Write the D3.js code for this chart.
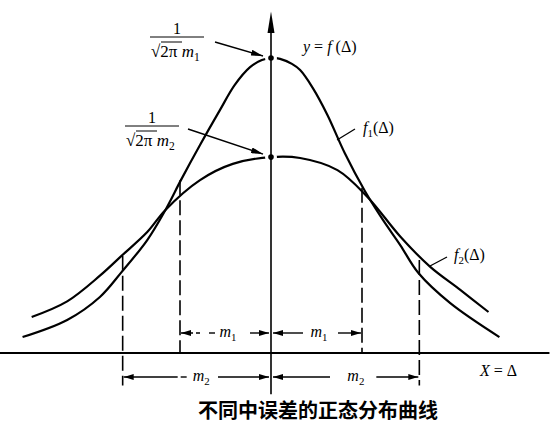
<!DOCTYPE html>
<html>
<head>
<meta charset="utf-8">
<script src="https://cdn.jsdelivr.net/npm/d3@7"></script>
<style>
  body { margin: 0; background: #fff; }
  svg { display: block; }
  text { font-family: "Liberation Serif", "DejaVu Serif", serif; fill: #000; }
</style>
</head>
<body>
<svg width="558" height="444"></svg>
<script>
// Δ in units of m1, f scaled so that the peak of f1 is 1
var f1Delta = [-2.73, -2.24, -1.88, -1.64, -1.36, -1.16, -0.99, -0.78, -0.56, -0.40, -0.23, -0.10, 0,
               0.10, 0.23, 0.32, 0.46, 0.62, 0.81, 1.03, 1.23, 1.42, 1.62, 1.97, 2.51];
var f1Value = [0.054, 0.112, 0.19, 0.275, 0.383, 0.485, 0.586, 0.705, 0.824, 0.908, 0.969, 0.993, 1,
               0.997, 0.98, 0.959, 0.898, 0.807, 0.678, 0.55, 0.451, 0.366, 0.271, 0.169, 0.054];
var f2Delta = [-2.63, -2.24, -1.88, -1.64, -1.36, -1.16, -0.78, -0.42, 0,
               0.32, 0.73, 1.06, 1.42, 1.75, 2.08, 2.39];
var f2Value = [0.122, 0.175, 0.262, 0.33, 0.41, 0.485, 0.586, 0.641, 0.664,
               0.661, 0.62, 0.529, 0.395, 0.292, 0.214, 0.139];

var m1 = 1.0, m2 = 1.63;
var m1Tops = [0.586, 0.56];   // f1 where the m1 guides start (left, right)
var m2Tops = [0.33, 0.315];   // f2 where the m2 guides start
var caption = "不同中误差的正态分布曲线";

var svg = d3.select("svg");

var x = d3.scaleLinear().domain([-3, 3]).range([-2, 544]);
var y = d3.scaleLinear().domain([0, 1]).range([353, 58]);

var defs = svg.append("defs");
defs.append("marker")
    .attr("id", "arr")
    .attr("markerUnits", "userSpaceOnUse")
    .attr("markerWidth", 10).attr("markerHeight", 6)
    .attr("refX", 10).attr("refY", 3)
    .attr("orient", "auto-start-reverse")
  .append("path")
    .attr("d", "M0,0L10,3L0,6Z");
defs.append("marker")
    .attr("id", "arrLong")
    .attr("markerUnits", "userSpaceOnUse")
    .attr("markerWidth", 12).attr("markerHeight", 6)
    .attr("refX", 12).attr("refY", 3)
    .attr("orient", "auto")
  .append("path")
    .attr("d", "M0,0L12,3L0,6Z");

var line = d3.line()
    .x(d => x(d[0]))
    .y(d => y(d[1]))
    .curve(d3.curveCatmullRom.alpha(0.5));

var g = svg.append("g");

// curves
g.append("path")
    .datum(d3.zip(f1Delta, f1Value))
    .attr("d", line)
    .attr("fill", "none").attr("stroke", "#000").attr("stroke-width", 2.2);
g.append("path")
    .datum(d3.zip(f2Delta, f2Value))
    .attr("d", line)
    .attr("fill", "none").attr("stroke", "#000").attr("stroke-width", 2.2);

// dashed guides
[[-m1, m1Tops[0]], [m1, m1Tops[1]]].forEach(d => {
  g.append("line")
      .attr("x1", x(d[0])).attr("x2", x(d[0]))
      .attr("y1", y(d[1])).attr("y2", y(0))
      .attr("stroke", "#000").attr("stroke-width", 1.6)
      .attr("stroke-dasharray", "15,5");
});
[[-m2, m2Tops[0]], [m2, m2Tops[1]]].forEach(d => {
  g.append("line")
      .attr("x1", x(d[0])).attr("x2", x(d[0]))
      .attr("y1", y(d[1])).attr("y2", y(-0.11))
      .attr("stroke", "#000").attr("stroke-width", 1.6)
      .attr("stroke-dasharray", "15,5");
});

// x axis
g.append("line")
    .attr("x1", x(-2.98)).attr("x2", x(3.06))
    .attr("y1", y(0)).attr("y2", y(0))
    .attr("stroke", "#000").attr("stroke-width", 2);

// gaps around the peak dots
var peak2 = f2Value[f2Delta.indexOf(0)];
[1, peak2].forEach(v => {
  g.append("circle").attr("cx", x(0)).attr("cy", y(v)).attr("r", 6).attr("fill", "#fff");
});

// y axis with arrow
var x0 = x(0);
g.append("line")
    .attr("x1", x0).attr("x2", x0)
    .attr("y1", y(-0.14)).attr("y2", y(1.1))
    .attr("stroke", "#000").attr("stroke-width", 1.6);
g.append("path")
    .attr("d", `M${x0},${y(1.158)}L${x0 - 3.5},${y(1.085)}L${x0 + 3.5},${y(1.085)}Z`);

[1, peak2].forEach(v => {
  g.append("circle").attr("cx", x0).attr("cy", y(v)).attr("r", 2.8).attr("fill", "#000");
});

// helper for math labels
function mathText(px, py, parts, size) {
  var t = g.append("text").attr("x", px).attr("y", py).attr("font-size", size);
  parts.forEach(p => {
    var s = t.append("tspan").text(p.t);
    if (p.i) s.attr("font-style", "italic");
    if (p.sub) s.attr("font-size", size * 0.68).attr("dy", 4);
    if (p.up) s.attr("dy", -4);
  });
  return t;
}

mathText(303, 52, [{t: "y", i: 1}, {t: " = "}, {t: "f", i: 1}, {t: " (Δ)"}], 16);
mathText(363, 133, [{t: "f", i: 1}, {t: "1", sub: 1}, {t: "(Δ)", up: 1}], 16);
mathText(454, 260, [{t: "f", i: 1}, {t: "2", sub: 1}, {t: "(Δ)", up: 1}], 16);
mathText(480, 376, [{t: "X", i: 1}, {t: " = Δ"}], 16);

// fraction labels 1/(√2π m)
function fraction(cx, lineY, sub) {
  g.append("text").attr("x", cx).attr("y", lineY - 3)
      .attr("text-anchor", "middle").attr("font-size", 16).text("1");
  g.append("line")
      .attr("x1", cx - 27).attr("x2", cx + 27)
      .attr("y1", lineY).attr("y2", lineY)
      .attr("stroke", "#000").attr("stroke-width", 1);
  mathText(cx - 26, lineY + 20, [{t: "√"}, {t: "2π "}, {t: "m", i: 1}, {t: sub, sub: 1}], 17);
  g.append("line")
      .attr("x1", cx - 16).attr("x2", cx + 5)
      .attr("y1", lineY + 5).attr("y2", lineY + 5)
      .attr("stroke", "#000").attr("stroke-width", 1);
}
fraction(177, 37, "1");
fraction(152, 126, "2");

// leader arrows to the peaks
g.append("line")
    .attr("x1", 215).attr("y1", 42).attr("x2", x0 - 8).attr("y2", y(1) - 2)
    .attr("stroke", "#000").attr("stroke-width", 1.4)
    .attr("marker-end", "url(#arrLong)");
g.append("line")
    .attr("x1", 188).attr("y1", 129).attr("x2", x0 - 8).attr("y2", y(peak2) - 3)
    .attr("stroke", "#000").attr("stroke-width", 1.4)
    .attr("marker-end", "url(#arrLong)");

// leader ticks for f1, f2 labels
g.append("line").attr("x1", 337).attr("y1", 140).attr("x2", 355).attr("y2", 129)
    .attr("stroke", "#000").attr("stroke-width", 1.3);
g.append("line").attr("x1", 430).attr("y1", 266).attr("x2", 447).attr("y2", 257)
    .attr("stroke", "#000").attr("stroke-width", 1.3);

// dimension rows
function seg(a, b, py, start, end, dash) {
  var l = g.append("line")
      .attr("x1", a).attr("x2", b).attr("y1", py).attr("y2", py)
      .attr("stroke", "#000").attr("stroke-width", 1.4);
  if (start) l.attr("marker-start", "url(#arr)");
  if (end) l.attr("marker-end", "url(#arr)");
  if (dash) l.attr("stroke-dasharray", dash);
}
var r1 = 333, r2 = 377;
var xl1 = x(-m1), xr1 = x(m1), xl2 = x(-m2), xr2 = x(m2);
seg(xl1 + 1, xl1 + 20, r1, true, false, "12,3");
seg(xl1 + 29, xl1 + 35, r1);
seg(x0 - 21, x0 - 2, r1, false, true);
seg(x0 + 2, x0 + 32, r1, true, false);
seg(xr1 - 24, xr1 - 1, r1, false, true);
mathText((xl1 + x0) / 2 - 6, r1 + 4, [{t: "m", i: 1}, {t: "1", sub: 1}], 16);
mathText((xr1 + x0) / 2 - 6, r1 + 4, [{t: "m", i: 1}, {t: "1", sub: 1}], 16);

seg(xl2 + 1, xl2 + 55, r2, true, false);
seg(xl2 + 58, xl2 + 64, r2);
seg(x0 - 53, x0 - 2, r2, false, true);
seg(x0 + 2, x0 + 59, r2, true, false);
seg(xr2 - 43, xr2 - 1, r2, false, true);
mathText(xl2 + 70, r2 + 4, [{t: "m", i: 1}, {t: "2", sub: 1}], 16);
mathText(xr2 - 72, r2 + 4, [{t: "m", i: 1}, {t: "2", sub: 1}], 16);

// caption
svg.append("text")
    .attr("x", 318).attr("y", 418)
    .attr("text-anchor", "middle")
    .attr("font-size", 20)
    .attr("font-weight", 700)
    .style("font-family", "'Noto Sans CJK SC', sans-serif")
    .text(caption);
</script>
</body>
</html>
